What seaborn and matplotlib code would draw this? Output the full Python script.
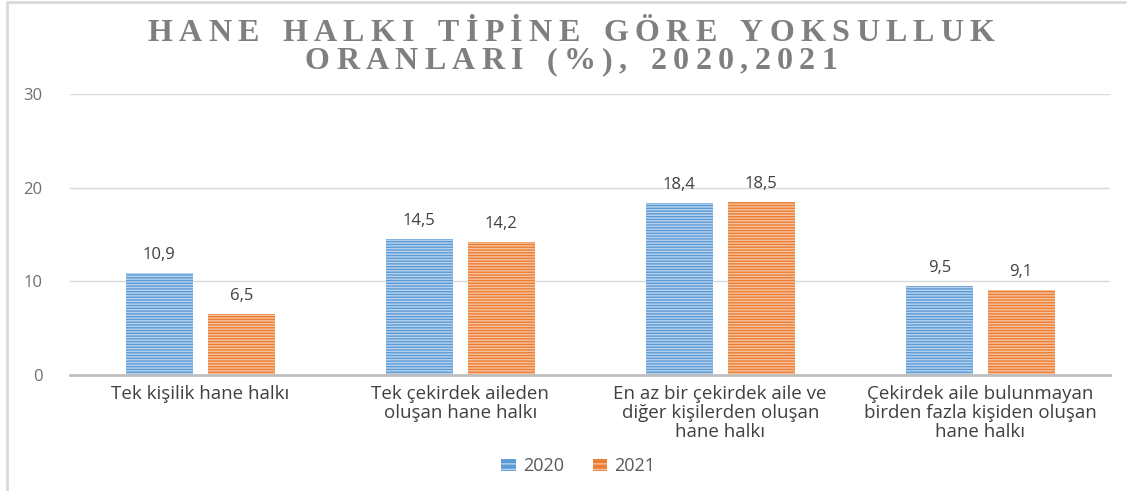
import pandas as pd
import matplotlib.pyplot as plt
import seaborn as sns
from matplotlib.patches import Patch
from matplotlib.lines import Line2D

# Veriler
kategoriler = ["Tek kişilik hane halkı",
               "Tek çekirdek aileden\noluşan hane halkı",
               "En az bir çekirdek aile ve\ndiğer kişilerden oluşan\nhane halkı",
               "Çekirdek aile bulunmayan\nbirden fazla kişiden oluşan\nhane halkı"]
yillar = ["2020", "2021"]
oran_2020 = [10.9, 14.5, 18.4, 9.5]
oran_2021 = [6.5, 14.2, 18.5, 9.1]
baslik = ["HANE HALKI TİPİNE GÖRE YOKSULLUK", "ORANLARI (%), 2020,2021"]

renkler = {"2020": "#5B9BD5", "2021": "#ED7D31"}
cizgi_renk = {"2020": "#b9d3ee", "2021": "#f6c3a0"}

df = pd.DataFrame({
    "kategori": kategoriler * 2,
    "yil": ["2020"] * 4 + ["2021"] * 4,
    "oran": oran_2020 + oran_2021,
})

sns.set_theme(style="white")
plt.rcParams['font.family'] = ['Open Sans', 'DejaVu Sans']
plt.rcParams['hatch.linewidth'] = 1.0

fig = plt.figure(figsize=(11.34, 4.91), dpi=100)
ax = fig.add_axes([0.062, 0.236, 0.917, 0.573])

sns.barplot(data=df, x="kategori", y="oran", hue="yil", palette=renkler,
            width=0.63, gap=0.18, ax=ax, legend=False, saturation=1)

for cont, yil in zip(ax.containers, yillar):
    for bar in cont:
        bar.set_hatch("------")
        bar.set_edgecolor(cizgi_renk[yil])
        bar.set_linewidth(0)
    ax.bar_label(cont, labels=[f"{v:.1f}".replace(".", ",") for v in cont.datavalues],
                 padding=7, fontsize=12, color="#404040")

ax.set_ylim(0, 30)
ax.set_yticks([0, 10, 20, 30])
ax.set_xlim(-0.5, 3.5)
ax.grid(axis="y", color="#d9d9d9", linewidth=1)
ax.set_axisbelow(True)
for s in ["top", "right", "left"]:
    ax.spines[s].set_visible(False)
ax.spines["bottom"].set_color("#bfbfbf")
ax.spines["bottom"].set_linewidth(2)
ax.tick_params(axis="y", length=0, pad=20, labelsize=12, labelcolor="#6f6f6f")
ax.tick_params(axis="x", length=0, pad=7, labelsize=13.5, labelcolor="#404040")
ax.set_xlabel("")
ax.set_ylabel("")
for lbl in ax.get_xticklabels():
    lbl.set_verticalalignment("top")
    lbl.set_linespacing(1.08)

# Başlık: harf aralıklı
renderer = fig.canvas.get_renderer()
for satir, y in zip(baslik, [0.932, 0.875]):
    parcalar = []
    for ch in satir:
        t = fig.text(0, 0, ch, fontsize=23, fontweight="bold", family="Liberation Serif",
                     color="#7f7f7f")
        w = t.get_window_extent(renderer).width if ch != " " else 11
        parcalar.append((t, w))
    bosluk = 6.3
    toplam = sum(w for _, w in parcalar) + bosluk * (len(parcalar) - 1)
    x = 571 - toplam / 2
    for t, w in parcalar:
        t.set_position((x / 1134, y))
        t.set_verticalalignment("center")
        x += w + bosluk

handles = [Patch(facecolor=renkler[y], edgecolor=cizgi_renk[y], hatch="---", linewidth=0)
           for y in yillar]
fig.legend(handles, yillar, loc="center", bbox_to_anchor=(0.51, 0.05), ncol=2,
           frameon=False, fontsize=13, handlelength=0.8, handleheight=0.6,
           columnspacing=1.6, handletextpad=0.4, labelcolor="#595959")

# Çerçeve
fig.add_artist(Line2D([7 / 1134, 7 / 1134], [0, 1 - 2 / 491], color="#d9d9d9", linewidth=2))
fig.add_artist(Line2D([7 / 1134, 1125 / 1134], [1 - 2 / 491, 1 - 2 / 491], color="#d9d9d9", linewidth=2))

fig.savefig("out.png", dpi=100)
